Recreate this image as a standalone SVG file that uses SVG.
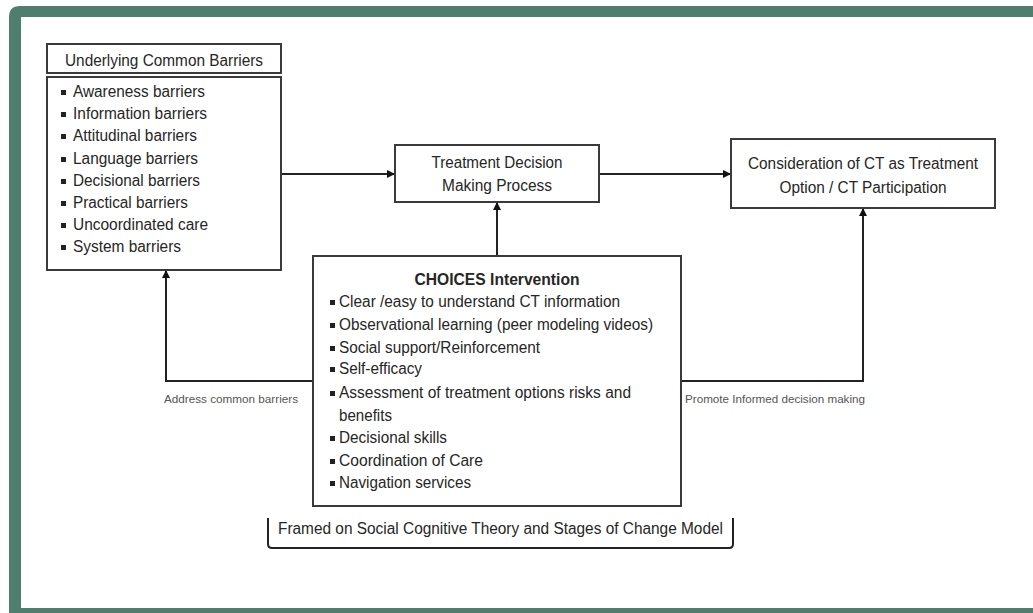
<svg xmlns="http://www.w3.org/2000/svg" width="1033" height="613" viewBox="0 0 1033 613">
<style>
.box{fill:#fff;stroke:#3a3a3a;stroke-width:2}
.t{font-family:"Liberation Sans",Arial,sans-serif;font-size:16px;fill:#262626}
.tc{text-anchor:middle}
.b{font-weight:bold}
.lbl{font-family:"Liberation Sans",Arial,sans-serif;font-size:11.5px;fill:#555}
.bul{fill:#222}
.con{fill:none;stroke:#222;stroke-width:2}
</style>
<defs>
<marker id="ah" markerWidth="8" markerHeight="8" refX="7" refY="4" orient="auto" markerUnits="userSpaceOnUse">
<path d="M0,0 L8,4 L0,8 Z" fill="#111"/>
</marker>
</defs>
<rect width="1033" height="613" fill="#fff"/>
<g id="frame">
<path d="M9,613 L9,17 Q9,6 20,6 L1033,6 L1033,17 L21,17 L21,608 L1033,608 L1033,613 Z" fill="#4f7e6e"/>
</g>
<g id="connectors">
<line class="con" x1="281" y1="174" x2="394" y2="174" marker-end="url(#ah)"/>
<line class="con" x1="599" y1="174" x2="730" y2="174" marker-end="url(#ah)"/>
<line class="con" x1="497" y1="256" x2="497" y2="203" marker-end="url(#ah)"/>
<polyline class="con" points="313,381 166,381 166,271" marker-end="url(#ah)"/>
<polyline class="con" points="681,381 863,381 863,209" marker-end="url(#ah)"/>
<text class="lbl" x="164" y="403" textLength="134" lengthAdjust="spacingAndGlyphs">Address common barriers</text>
<text class="lbl" x="685" y="403" textLength="180" lengthAdjust="spacingAndGlyphs">Promote Informed decision making</text>
</g>
<g id="barriers-header">
<rect class="box" x="47" y="44" width="234" height="29"/>
<text class="t" x="65" y="66" textLength="198" lengthAdjust="spacingAndGlyphs">Underlying Common Barriers</text>
</g>
<g id="barriers-list">
<rect class="box" x="47" y="77" width="234" height="193"/>
<rect class="bul" x="61" y="90" width="5" height="5"/>
<text class="t" x="73" y="97" textLength="132" lengthAdjust="spacingAndGlyphs">Awareness barriers</text>
<rect class="bul" x="61" y="112" width="5" height="5"/>
<text class="t" x="73" y="119" textLength="134" lengthAdjust="spacingAndGlyphs">Information barriers</text>
<rect class="bul" x="61" y="134" width="5" height="5"/>
<text class="t" x="73" y="141" textLength="124" lengthAdjust="spacingAndGlyphs">Attitudinal barriers</text>
<rect class="bul" x="61" y="157" width="5" height="5"/>
<text class="t" x="73" y="164" textLength="125" lengthAdjust="spacingAndGlyphs">Language barriers</text>
<rect class="bul" x="61" y="179" width="5" height="5"/>
<text class="t" x="73" y="186" textLength="127" lengthAdjust="spacingAndGlyphs">Decisional barriers</text>
<rect class="bul" x="61" y="201" width="5" height="5"/>
<text class="t" x="73" y="208" textLength="115" lengthAdjust="spacingAndGlyphs">Practical barriers</text>
<rect class="bul" x="61" y="223" width="5" height="5"/>
<text class="t" x="73" y="230" textLength="135" lengthAdjust="spacingAndGlyphs">Uncoordinated care</text>
<rect class="bul" x="61" y="245" width="5" height="5"/>
<text class="t" x="73" y="252" textLength="108" lengthAdjust="spacingAndGlyphs">System barriers</text>
</g>
<g id="treatment-decision">
<rect class="box" x="395" y="145" width="204" height="57"/>
<text class="t tc" x="497" y="168" textLength="131" lengthAdjust="spacingAndGlyphs">Treatment Decision</text>
<text class="t tc" x="497" y="191" textLength="110" lengthAdjust="spacingAndGlyphs">Making Process</text>
</g>
<g id="consideration">
<rect class="box" x="731" y="139" width="264" height="69"/>
<text class="t tc" x="863" y="169" textLength="230" lengthAdjust="spacingAndGlyphs">Consideration of CT as Treatment</text>
<text class="t tc" x="863" y="193" textLength="167" lengthAdjust="spacingAndGlyphs">Option / CT Participation</text>
</g>
<g id="choices">
<rect class="box" x="313" y="256" width="368" height="250"/>
<text class="t tc b" x="497" y="285" textLength="165" lengthAdjust="spacingAndGlyphs">CHOICES Intervention</text>
<rect class="bul" x="330" y="300" width="5" height="5"/>
<text class="t" x="339" y="307" textLength="281" lengthAdjust="spacingAndGlyphs">Clear /easy to understand CT information</text>
<rect class="bul" x="330" y="323" width="5" height="5"/>
<text class="t" x="339" y="330" textLength="314" lengthAdjust="spacingAndGlyphs">Observational learning (peer modeling videos)</text>
<rect class="bul" x="330" y="346" width="5" height="5"/>
<text class="t" x="339" y="353" textLength="201" lengthAdjust="spacingAndGlyphs">Social support/Reinforcement</text>
<rect class="bul" x="330" y="367" width="5" height="5"/>
<text class="t" x="339" y="374" textLength="83" lengthAdjust="spacingAndGlyphs">Self-efficacy</text>
<rect class="bul" x="330" y="391" width="5" height="5"/>
<text class="t" x="339" y="398" textLength="292" lengthAdjust="spacingAndGlyphs">Assessment of treatment options risks and</text>
<text class="t" x="339" y="421" textLength="53" lengthAdjust="spacingAndGlyphs">benefits</text>
<rect class="bul" x="330" y="436" width="5" height="5"/>
<text class="t" x="339" y="443" textLength="108" lengthAdjust="spacingAndGlyphs">Decisional skills</text>
<rect class="bul" x="330" y="459" width="5" height="5"/>
<text class="t" x="339" y="466" textLength="144" lengthAdjust="spacingAndGlyphs">Coordination of Care</text>
<rect class="bul" x="330" y="481" width="5" height="5"/>
<text class="t" x="339" y="488" textLength="132" lengthAdjust="spacingAndGlyphs">Navigation services</text>
</g>
<g id="framework">
<path d="M268,518 L268,544 Q268,548 272,548 L729,548 Q733,548 733,544 L733,518" fill="none" stroke="#222" stroke-width="2"/>
<text class="t" x="278" y="534" font-size="15" textLength="445" lengthAdjust="spacingAndGlyphs">Framed on Social Cognitive Theory and Stages of Change Model</text>
</g>
</svg>
